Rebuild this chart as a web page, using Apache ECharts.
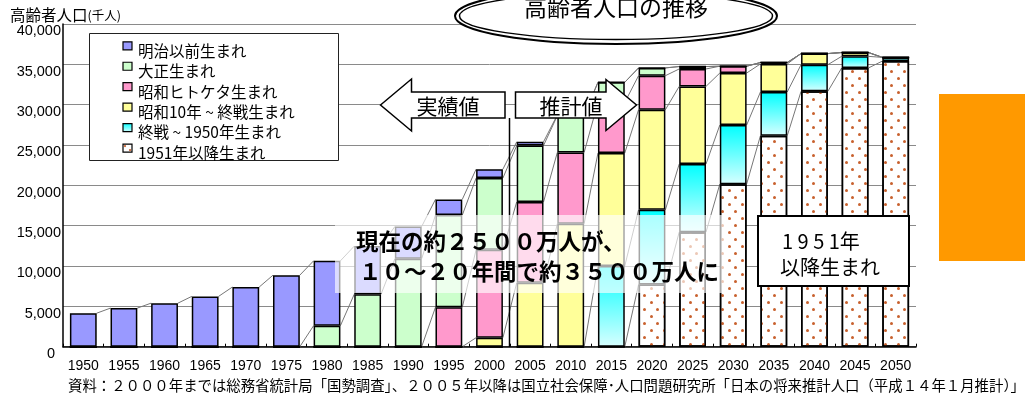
<!DOCTYPE html>
<html>
<head>
<meta charset="utf-8">
<script src="https://cdn.jsdelivr.net/npm/echarts@6/dist/echarts.min.js"></script>
<style>
html,body{margin:0;padding:0;background:#fff;}
#chart{width:1025px;height:400px;}
</style>
</head>
<body>
<div id="chart"></div>
<script>
// 高齢者人口の推移 (千人)
var years = ['1950','1955','1960','1965','1970','1975','1980','1985','1990','1995','2000',
             '2005','2010','2015','2020','2025','2030','2035','2040','2045','2050'];

var meiji   = [4155,4786,5398,6236,7393,8865,8041,5968,3995,1950,1107,460,100,0,0,0,0,0,0,0,0];
var taisho  = [0,0,0,0,0,0,2606,6500,10900,11420,8881,6987,4555,2500,965,301,0,0,0,0,0];
var hitoketa= [0,0,0,0,0,0,0,0,0,4891,10900,10030,8830,6272,4219,2159,850,176,0,0,0];
var showa10 = [0,0,0,0,0,0,0,0,0,0,1117,7915,15250,14000,12410,9631,6450,3476,1374,475,0];
var shusen  = [0,0,0,0,0,0,0,0,0,0,0,0,0,10000,9265,8435,7320,5420,3308,1440,463];
var after51 = [0,0,0,0,0,0,0,0,0,0,0,0,0,0,7700,14200,20150,26150,31650,34550,35400];

var yTicks = [0,5000,10000,15000,20000,25000,30000,35000,40000];

var FONT = "'Liberation Sans', 'Noto Sans CJK JP', sans-serif";
var JP = "'Noto Sans CJK JP', sans-serif";
var BAR_RATIO = 0.66;

var cyanGrad = new echarts.graphic.LinearGradient(0,0,0,1,[
    {offset:0,color:'#00FFFF'},{offset:1,color:'#D8FFFF'}]);

// 下から積み上げる順
var stack = [
    {name:'1951年以降生まれ', data:after51, color:'#FFFFFF'},
    {name:'終戦 ~ 1950年生まれ', data:shusen, color:cyanGrad},
    {name:'昭和10年 ~ 終戦生まれ', data:showa10, color:'#FFFF99'},
    {name:'昭和ヒトケタ生まれ', data:hitoketa, color:'#FF99CC'},
    {name:'大正生まれ', data:taisho, color:'#CCFFCC'},
    {name:'明治以前生まれ', data:meiji, color:'#9999FF'}
];

var dotDecal = {
    symbol:'circle', symbolSize:1, color:'#C8612E',
    dashArrayX:[[2.6,9.4],[0,6,2.6,3.4]], dashArrayY:[2.6,3.8], rotation:0
};

var series = stack.map(function(s, k){
    var st = {color:s.color, borderColor:'#000', borderWidth:1.5};
    if (k === 0) st.decal = dotDecal;
    return {
        name:s.name, type:'bar', stack:'total', barWidth:(BAR_RATIO*100)+'%',
        itemStyle:st, emphasis:{disabled:true}, data:s.data
    };
});

// 区分線 (系列線)
var idx = [];
for (var i = 0; i < years.length - 1; i++) idx.push([i, 0]);
series.push({
    type:'custom', z:1, silent:true, data:idx,
    renderItem:function(params, api){
        var i = api.value(0);
        var half = api.size([1,0])[0]*BAR_RATIO/2;
        var kids = [], a = 0, b = 0;
        for (var s = 0; s < stack.length; s++) {
            a += stack[s].data[i];
            b += stack[s].data[i+1];
            if (a === 0 && b === 0) continue;
            var p1 = api.coord([i, a]), p2 = api.coord([i+1, b]);
            kids.push({type:'line', shape:{x1:p1[0]+half, y1:p1[1], x2:p2[0]-half, y2:p2[1]},
                       style:{stroke:'#777', lineWidth:1}});
        }
        return {type:'group', children:kids};
    }
});

// 凡例 (表示順は上から)
var legendItems = stack.slice().reverse();
var legendEls = [{type:'rect', shape:{x:89.5, y:33.5, width:249, height:127},
    style:{fill:'#fff', stroke:'#222', lineWidth:1}}];
legendItems.forEach(function(s, k){
    var cy = 50.8 + k*20.45;
    legendEls.push({type:'rect', shape:{x:123, y:cy-9, width:9, height:8},
        style:{fill:s.color, stroke:'#000', lineWidth:1.2}});
    if (s.data === after51) {
        legendEls.push({type:'circle', shape:{cx:125, cy:cy-7, r:1.1}, style:{fill:'#C8612E'}});
        legendEls.push({type:'circle', shape:{cx:130, cy:cy-3, r:1.1}, style:{fill:'#C8612E'}});
    }
    legendEls.push({type:'text', x:138, y:cy,
        style:{text:s.name, font:'15.5px ' + JP, fill:'#000', verticalAlign:'middle'}});
});

var graphics = [
    // 縦軸タイトル
    {type:'text', x:10, y:15, style:{text:'{a|高齢者人口}{b|(千人)}', verticalAlign:'middle',
        rich:{a:{fontSize:15.5, fontFamily:JP, fill:'#000'}, b:{fontSize:12.5, fontFamily:JP, fill:'#000'}}}},
    // タイトル楕円
    {type:'ellipse', shape:{cx:616, cy:16, rx:161, ry:28}, style:{fill:'#fff', stroke:'#000', lineWidth:2}},
    {type:'ellipse', shape:{cx:616, cy:16, rx:156.5, ry:23.5}, style:{fill:'#fff', stroke:'#000', lineWidth:1.5}},
    {type:'text', x:616, y:7, style:{text:'高齢者人口の推移', font:'23px ' + JP, fill:'#000',
        align:'center', verticalAlign:'middle'}},
    // 実績値 / 推計値 矢印
    {type:'polygon', shape:{points:[[380.5,105],[411.5,79],[411.5,92],[505,92],[505,118],[411.5,118],[411.5,131]]},
        style:{fill:'#fff', stroke:'#000', lineWidth:1.5}},
    {type:'text', x:448, y:106, style:{text:'実績値', font:'21px ' + JP, fill:'#000', align:'center', verticalAlign:'middle'}},
    {type:'polygon', shape:{points:[[515.5,92],[606,92],[606,79.5],[636.5,105],[606,130.5],[606,118],[515.5,118]]},
        style:{fill:'#fff', stroke:'#000', lineWidth:1.5}},
    {type:'text', x:571, y:106, style:{text:'推計値', font:'21px ' + JP, fill:'#000', align:'center', verticalAlign:'middle'}},
    {type:'line', shape:{x1:509.5, y1:118, x2:509.5, y2:347}, style:{stroke:'#000', lineWidth:1.5}},
    // 注記
    {type:'rect', shape:{x:335, y:215, width:390, height:78}, style:{fill:'rgba(255,255,255,0.65)'}},
    {type:'text', x:356, y:241, style:{text:'現在の約２５００万人が、', font:'bold 22.5px ' + JP, fill:'#000', verticalAlign:'middle'}},
    {type:'text', x:359, y:271, style:{text:'１０～２０年間で約３５００万人に', font:'bold 22.5px ' + JP, fill:'#000', verticalAlign:'middle'}},
    // 1951年以降生まれ ラベル
    {type:'rect', shape:{x:758, y:216, width:151, height:70}, style:{fill:'#fff', stroke:'#000', lineWidth:2}},
    {type:'text', x:782, y:241, style:{text:'1 9 5 1年', font:'20px ' + JP, fill:'#000', verticalAlign:'middle'}},
    {type:'text', x:780, y:267, style:{text:'以降生まれ', font:'20px ' + JP, fill:'#000', verticalAlign:'middle'}},
    // 右側のオレンジ
    {type:'rect', shape:{x:939, y:94, width:86, height:167}, style:{fill:'#FF9900'}},
    // 出典
    {type:'text', x:68, y:386, style:{text:'資料：２０００年までは総務省統計局「国勢調査」、２００５年以降は国立社会保障･人口問題研究所「日本の将来推計人口（平成１４年１月推計）」',
        font:'14.4px ' + JP, fill:'#000', verticalAlign:'middle'}}
].concat(legendEls);

graphics.forEach(function(g){ g.z = 100; g.silent = true; });

var chart = echarts.init(document.getElementById('chart'));
chart.setOption({
    animation:false,
    backgroundColor:'#fff',
    textStyle:{fontFamily:FONT},
    grid:{left:63, right:109, top:24, bottom:53.3, containLabel:false},
    xAxis:{
        type:'category', data:years,
        axisLine:{lineStyle:{color:'#000', width:1.5}},
        axisTick:{show:true, inside:true, length:3, lineStyle:{color:'#000'}},
        axisLabel:{interval:0, margin:12, fontSize:14, color:'#000', fontFamily:FONT}
    },
    yAxis:{
        type:'value', min:yTicks[0], max:yTicks[yTicks.length-1], interval:yTicks[1]-yTicks[0],
        axisLine:{show:true, lineStyle:{color:'#000', width:1.5}},
        axisTick:{show:false},
        splitLine:{lineStyle:{color:'#8a8a8a', width:1}},
        axisLabel:{margin:2, fontSize:14.5, color:'#000', fontFamily:FONT, verticalAlign:'top',
            formatter:function(v){ return v === 0 ? '{z|0}' : v.toLocaleString('en-US'); },
            rich:{z:{fontSize:14.5, padding:[0,6,0,0], fontFamily:FONT}}}
    },
    series:series,
    graphic:graphics
});
</script>
</body>
</html>
